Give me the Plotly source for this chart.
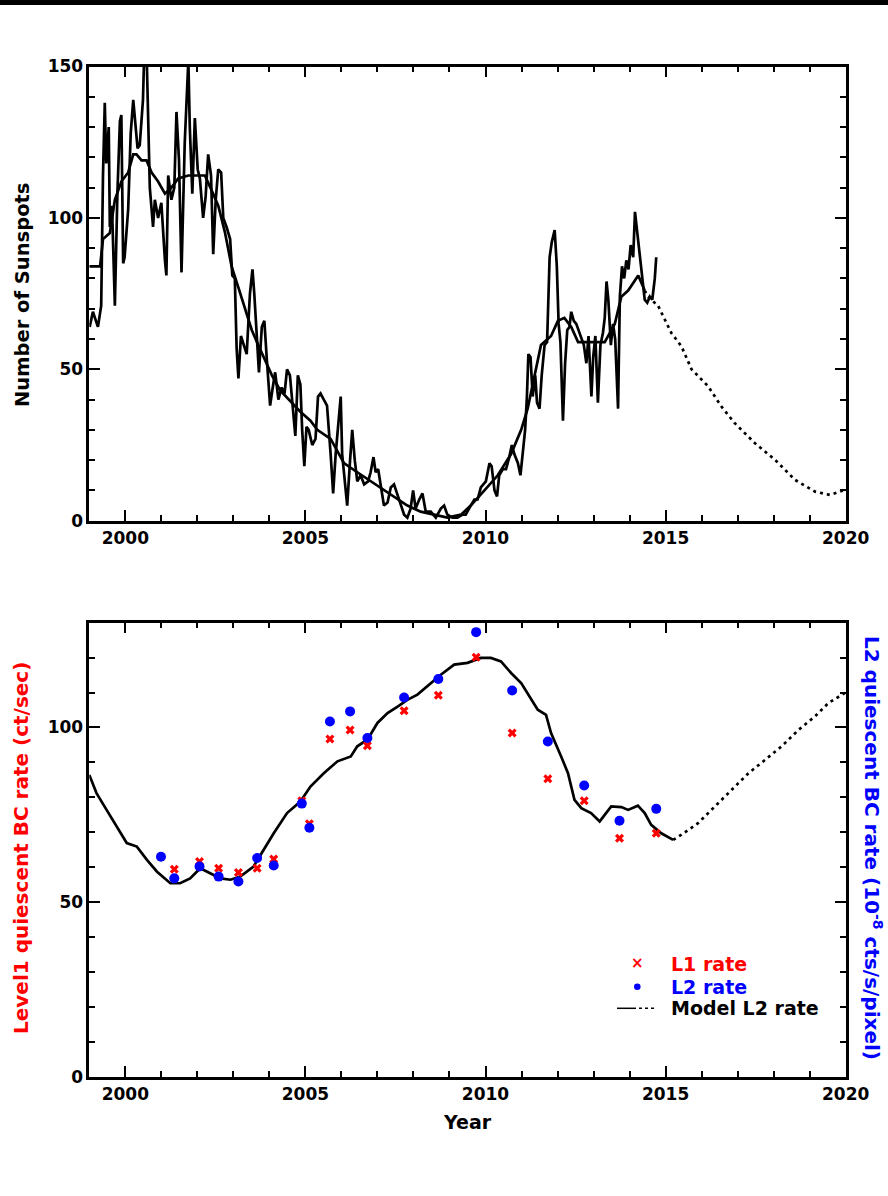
import plotly.graph_objects as go

# ---------------- data: top panel (sunspots) ----------------
ssn_month_year = [1999.01,1999.10,1999.24,1999.33,1999.38,1999.43,1999.47,1999.54,1999.57,1999.63,1999.71,1999.78,1999.85,1999.89,1999.94,1999.98,
    2000.08,2000.15,2000.22,2000.26,2000.34,2000.40,2000.49,2000.56,2000.63,2000.68,2000.77,2000.82,2000.91,2001.00,2001.10,2001.14,2001.19,2001.28,
    2001.36,2001.42,2001.49,2001.56,2001.65,2001.75,2001.79,2001.86,2001.93,2002.01,2002.07,2002.16,2002.23,2002.30,2002.38,2002.44,2002.51,2002.58,
    2002.66,2002.72,2002.81,2002.91,2002.97,2003.04,2003.09,2003.14,2003.21,2003.28,2003.37,2003.46,2003.53,2003.58,2003.65,2003.71,2003.79,2003.86,
    2003.93,2004.02,2004.08,2004.16,2004.25,2004.34,2004.42,2004.49,2004.57,2004.63,2004.72,2004.79,2004.86,2004.91,2004.97,2005.03,2005.09,2005.19,
    2005.28,2005.35,2005.42,2005.51,2005.60,2005.70,2005.77,2005.84,2005.90,2005.98,2006.02,2006.12,2006.16,2006.24,2006.30,2006.37,2006.44,2006.53,
    2006.63,2006.74,2006.81,2006.89,2006.95,2007.02,2007.09,2007.18,2007.28,2007.37,2007.46,2007.55,2007.65,2007.74,2007.83,2007.92,2007.99,2008.06,
    2008.16,2008.25,2008.34,2008.48,2008.62,2008.76,2008.85,2008.94,2009.08,2009.22,2009.36,2009.45,2009.59,2009.69,2009.78,2009.87,2010.01,2010.11,
    2010.17,2010.25,2010.32,2010.38,2010.48,2010.57,2010.66,2010.73,2010.80,2010.90,2010.97,2011.03,2011.10,2011.15,2011.19,2011.25,2011.31,2011.38,
    2011.43,2011.50,2011.56,2011.64,2011.71,2011.78,2011.84,2011.92,2011.98,2012.03,2012.08,2012.15,2012.21,2012.27,2012.33,2012.38,2012.45,2012.52,
    2012.58,2012.66,2012.73,2012.80,2012.86,2012.94,2012.99,2013.05,2013.12,2013.19,2013.26,2013.31,2013.36,2013.41,2013.48,2013.54,2013.60,2013.68,
    2013.73,2013.79,2013.85,2013.91,2013.97,2014.03,2014.10,2014.15,2014.21,2014.28,2014.35,2014.42,2014.49,2014.56,2014.63,2014.70,2014.74]
ssn_month_val = [64,69,64,71,114,138,118,130,97,104,71,108,132,134,85,87,
    103,128,139,133,123,124,139,170,137,110,97,106,100,105,86,81,114,106,
    110,135,119,82,125,152,130,108,133,116,113,100,107,121,114,88,106,116,
    115,100,97,93,81,80,57,47,61,58,55,75,83,75,61,49,64,66,
    53,38,43,49,40,44,42,50,48,40,28,48,45,30,18,31,30,25,
    27,41,42,40,38,22,9,22,31,41,22,10,5,20,30,20,13,15,
    12,13,16,21,16,17,11,5,6,11,12,9,5,2,1,4,10,4,
    7,9,3,3,1,4,5,2,1,1,2,2,5,7,7,11,13,19,
    18,10,8,15,17,17,21,25,22,19,15,21,30,41,55,54,41,48,
    39,37,48,58,59,87,92,96,84,65,59,33,52,63,64,69,66,65,
    63,61,58,52,61,41,54,61,39,58,62,67,79,73,58,65,60,37,
    74,84,80,86,83,91,87,102,96,89,82,73,72,74,73,80,87]

ssn_smooth_year = [1999.00,1999.30,1999.38,1999.57,1999.71,1999.89,2000.08,2000.22,2000.31,2000.45,2000.59,2000.73,2000.91,2001.10,2001.28,2001.47,
    2001.75,2002.02,2002.21,2002.40,2002.58,2002.77,2002.95,2003.14,2003.32,2003.51,2003.69,2003.88,2004.07,2004.30,2004.68,2004.86,2005.14,2005.33,
    2005.70,2006.07,2006.44,2006.81,2007.09,2007.46,2007.83,2008.20,2008.57,2008.94,2009.32,2009.59,2009.97,2010.34,2010.71,2010.99,2011.17,2011.36,
    2011.54,2011.82,2012.01,2012.19,2012.38,2012.57,2012.94,2013.31,2013.59,2013.77,2013.96,2014.14,2014.24,2014.42]
ssn_smooth_val = [84,84,93,95,106,112,115,121,121,119,119,115,112,108,110,113,
    114,114,114,109,104,95,84,77,70,63,58,53,48,43,38,36,33,30,
    27,19,16,13,11,8,5,3,2,1,2,5,10,15,22,30,37,48,
    58,61,66,67,64,59,59,59,65,74,76,79,81,76]

ssn_pred_year = [2014.42,2014.51,2014.79,2015.16,2015.44,2015.72,2016.18,2016.55,2016.92,2017.48,2018.04,2018.59,2019.15,2019.57,2019.98]
ssn_pred_val = [76,74,71,62,57.6,50,44.4,37.7,32.2,25.6,20.1,13.5,9.6,8.5,10.2]

# ---------------- data: bottom panel (background rates) ----------------
model_year = [1999.00,1999.20,1999.48,1999.76,2000.04,2000.32,2000.60,2000.88,2001.25,2001.52,2001.80,2002.08,2002.36,2002.64,2002.92,2003.19,
    2003.56,2003.84,2004.12,2004.49,2004.86,2005.14,2005.51,2005.89,2006.26,2006.44,2006.72,2007.00,2007.28,2007.56,2007.83,2008.11,
    2008.48,2008.76,2009.13,2009.50,2009.87,2010.15,2010.43,2010.71,2010.99,2011.27,2011.45,2011.68,2011.82,2012.10,2012.29,2012.47,
    2012.66,2012.93,2013.17,2013.49,2013.77,2013.96,2014.23,2014.42,2014.60,2014.88,2015.21]
model_val = [86.4,81.2,76.4,71.6,66.9,65.9,62.1,58.7,55.4,55.4,56.8,59.7,58.3,56.8,56.4,57.3,
    60.2,65.0,69.7,75.5,78.8,83.1,86.9,90.3,91.7,94.6,96.5,101.3,104.1,106.0,107.9,109.4,
    112.7,115.1,118.0,118.5,119.9,119.9,118.9,115.6,112.7,107.9,105.1,103.6,98.4,91.7,86.9,79.3,
    76.9,75.5,73.1,77.4,77.2,76.4,77.6,75.5,72.1,69.7,67.8]
model_pred_year = [2015.21,2015.44,2015.90,2016.37,2016.83,2017.30,2017.76,2018.22,2018.69,2019.15,2019.52,2019.98]
model_pred_val = [67.8,69.3,72.6,77.4,82.1,86.9,90.7,94.6,99.3,103.2,107.0,109.9]

obs_year = [2000.99,2001.36,2002.06,2002.59,2003.14,2003.66,2004.12,2004.90,2005.11,2005.68,2006.24,2006.72,2007.74,2008.69,2009.74,2010.74,2011.73,2012.74,2013.72,2014.74]
l1_rate = [None,59.4,61.6,59.7,58.5,59.7,62.3,79.0,72.4,96.7,99.3,94.8,104.8,109.2,120.1,98.4,85.3,79.0,68.3,69.7]
l2_rate = [63.0,56.8,60.2,57.3,55.9,62.6,60.5,78.2,71.3,101.7,104.6,97.0,108.6,113.9,127.3,110.6,96.0,83.4,73.3,76.7]

x_ticks = [2000, 2005, 2010, 2015, 2020]
y_ticks_top = [0, 50, 100, 150]
y_ticks_bot = [0, 50, 100]

# ---------------- styling ----------------
W, H = 888, 1196
FONT = "DejaVu Sans"
RED = "#ff0000"
BLUE = "#0000ff"


def px(x):
    return x / W


def py(y):
    return 1 - y / H


XDOM = [px(89.3), px(845.7)]
TOP_DOM = [py(520.7), py(66.5)]
BOT_DOM = [py(1076.7), py(622.7)]

fig = go.Figure()

fig.add_trace(go.Scatter(x=ssn_month_year, y=ssn_month_val, mode="lines",
    line=dict(color="black", width=2.7), xaxis="x", yaxis="y", showlegend=False))
fig.add_trace(go.Scatter(x=ssn_smooth_year, y=ssn_smooth_val, mode="lines",
    line=dict(color="black", width=2.7), xaxis="x", yaxis="y", showlegend=False))
fig.add_trace(go.Scatter(x=ssn_pred_year, y=ssn_pred_val, mode="lines",
    line=dict(color="black", width=2.7, dash="3px,4px"), xaxis="x", yaxis="y", showlegend=False))

fig.add_trace(go.Scatter(x=model_year, y=model_val, mode="lines",
    line=dict(color="black", width=2.7), xaxis="x2", yaxis="y2", showlegend=False))
fig.add_trace(go.Scatter(x=model_pred_year, y=model_pred_val, mode="lines",
    line=dict(color="black", width=2.7, dash="3px,4px"), xaxis="x2", yaxis="y2", showlegend=False))
fig.add_trace(go.Scatter(x=obs_year, y=l1_rate, mode="markers",
    marker=dict(symbol="x", size=8, color=RED), xaxis="x2", yaxis="y2", showlegend=False))
fig.add_trace(go.Scatter(x=obs_year, y=l2_rate, mode="markers",
    marker=dict(symbol="circle", size=10, color=BLUE), xaxis="x2", yaxis="y2", showlegend=False))

tickfont = dict(family=FONT, size=17, color="black")


def bold(vals):
    return ["<b>%d</b>" % v for v in vals]


def xax(anchor):
    return dict(domain=XDOM, range=[1999, 2020], anchor=anchor, automargin=False,
        tickmode="array", tickvals=x_ticks, ticktext=bold(x_ticks),
        ticks="inside", ticklen=11, tickwidth=2, tickcolor="black",
        minor=dict(dtick=1, tick0=2000, ticks="inside", ticklen=6, tickwidth=2, tickcolor="black"),
        showline=True, linewidth=2.5, linecolor="black", mirror="ticks",
        showgrid=False, zeroline=False, tickfont=tickfont)


def yax(anchor, dom, rng, ticks_):
    return dict(domain=dom, range=rng, anchor=anchor, automargin=False,
        tickmode="array", tickvals=ticks_, ticktext=bold(ticks_),
        ticks="inside", ticklen=11, tickwidth=2, tickcolor="black",
        minor=dict(dtick=10, tick0=0, ticks="inside", ticklen=6, tickwidth=2, tickcolor="black"),
        showline=True, linewidth=2.5, linecolor="black", mirror="ticks",
        showgrid=False, zeroline=False, tickfont=tickfont)


fig.update_layout(
    width=W, height=H,
    margin=dict(l=0, r=0, t=0, b=0, pad=0),
    paper_bgcolor="white", plot_bgcolor="white",
    font=dict(family=FONT),
    xaxis=xax("y"), yaxis=yax("x", TOP_DOM, [0, 150], y_ticks_top),
    xaxis2=xax("y2"), yaxis2=yax("x2", BOT_DOM, [0, 130], y_ticks_bot),
    showlegend=False,
)


def label(text, x, y, color="black", angle=0, size=17, xanchor="center"):
    fig.add_annotation(text="<b>" + text + "</b>", x=px(x), y=py(y), xref="paper", yref="paper",
        showarrow=False, textangle=angle, xanchor=xanchor, yanchor="middle",
        font=dict(family=FONT, size=size, color=color))


label("Number of Sunspots", 22, 295, angle=-90, size=19.5)
label("Level1 quiescent BC rate (ct/sec)", 21, 848, color=RED, angle=-90, size=20)
label("L2 quiescent BC rate (10<sup>-8</sup> cts/s/pixel)", 873, 848, color=BLUE, angle=90, size=20)
label("Year", 467, 1122, size=19)
label("L1 rate", 669, 963.5, color=RED, xanchor="left", size=19)
label("L2 rate", 669, 987.3, color=BLUE, xanchor="left", size=19)
label("Model L2 rate", 669, 1008.3, xanchor="left", size=19)

# legend keys (decoration)
label("\u00d7", 637.3, 962.5, color=RED, size=15)
fig.add_shape(type="circle", xref="paper", yref="paper",
    x0=px(634), x1=px(640.6), y0=py(990), y1=py(983.4),
    fillcolor=BLUE, line=dict(width=0))
fig.add_shape(type="line", xref="paper", yref="paper",
    x0=px(617), x1=px(636), y0=py(1008.3), y1=py(1008.3), line=dict(color="black", width=1.5))
fig.add_shape(type="line", xref="paper", yref="paper",
    x0=px(639), x1=px(654), y0=py(1008.3), y1=py(1008.3), line=dict(color="black", width=1.5, dash="3px,3px"))

# black strip at the very top of the page
fig.add_shape(type="rect", xref="paper", yref="paper", x0=0, x1=1, y0=py(5), y1=1,
    fillcolor="black", line=dict(width=0), layer="above")

pin = ("document.documentElement.style.overflow='hidden';"
       "document.body.style.margin='0px';document.body.style.overflow='hidden';"
       "var d=document.querySelector('.plotly-graph-div');"
       "if(d){d.style.position='fixed';d.style.left='0px';d.style.top='0px';}")

fig.write_html("out.html", post_script=pin, config={"displayModeBar": False})
